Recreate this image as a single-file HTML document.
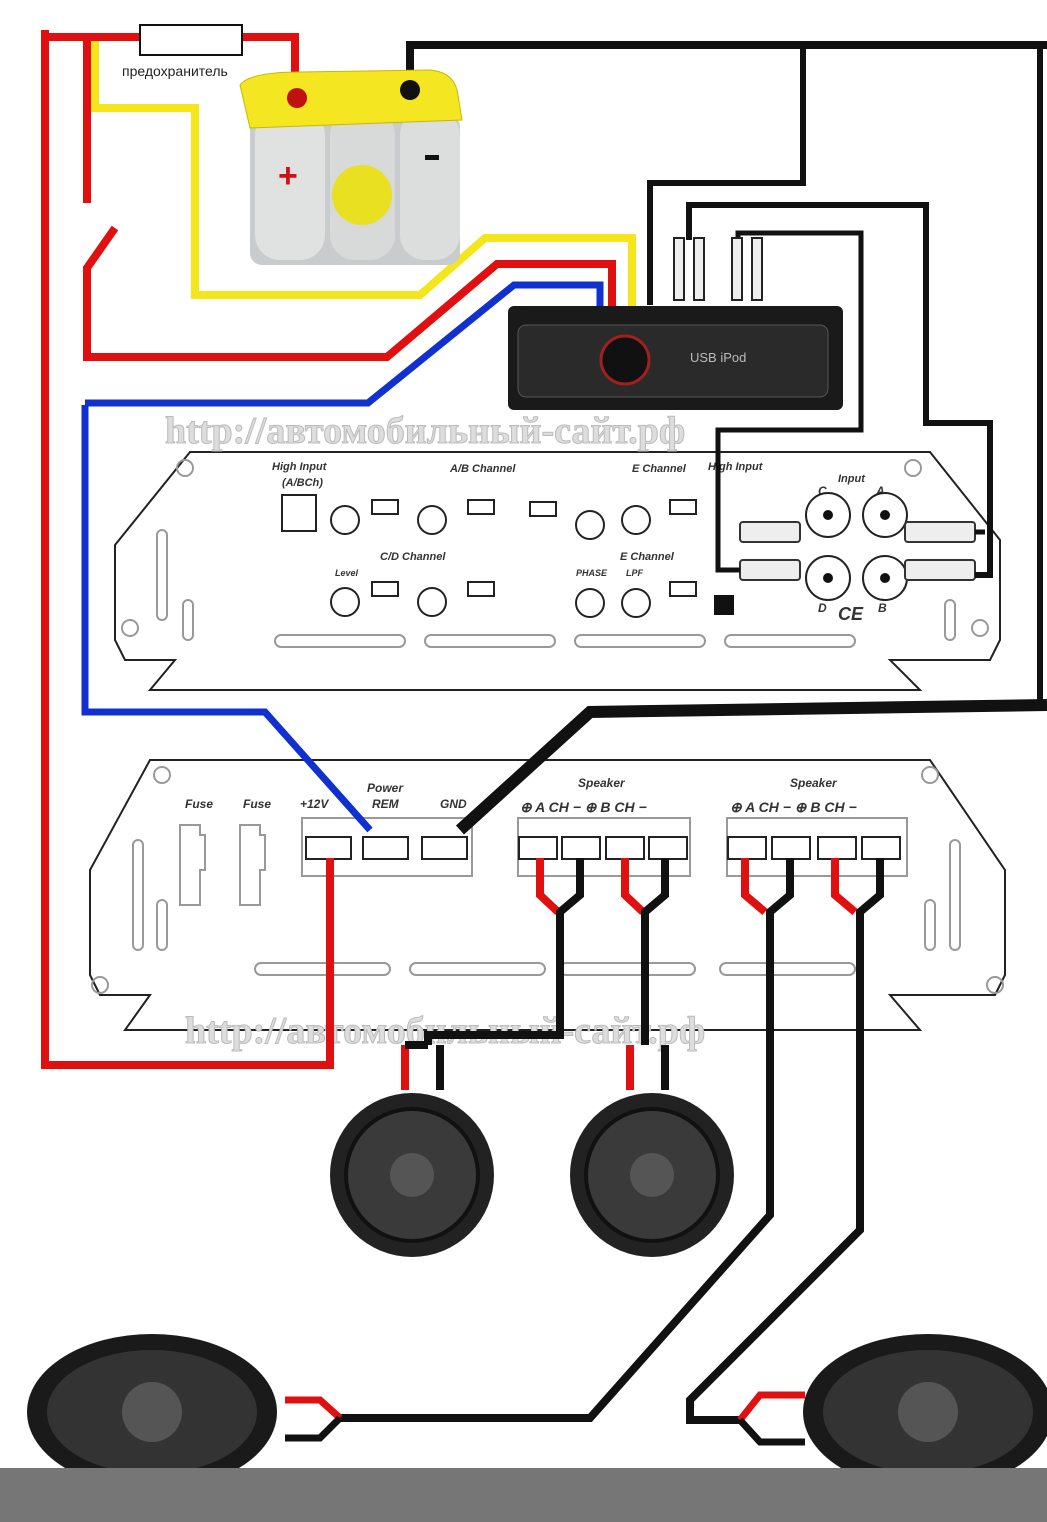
<!DOCTYPE html>
<html><head><meta charset="utf-8"><style>
html,body{margin:0;padding:0;background:#fff;}
svg{display:block;font-family:"Liberation Sans",sans-serif;}
</style></head><body>
<svg width="1047" height="1522" viewBox="0 0 1047 1522" xmlns="http://www.w3.org/2000/svg">
<rect width="1047" height="1522" fill="#fff"/>
<g fill="none" stroke="#222" stroke-width="2">
<path d="M190,452 L930,452 L1000,540 L1000,640 L990,660 L890,660 L920,690 L150,690 L175,660 L125,660 L115,640 L115,545 Z"/>
<path d="M150,760 L930,760 L1005,870 L1005,975 L995,995 L890,995 L920,1030 L125,1030 L150,995 L100,995 L90,975 L90,870 Z"/>
</g>
<g fill="none" stroke="#999" stroke-width="2">
<rect x="275" y="635" width="130" height="12" rx="6"/><rect x="425" y="635" width="130" height="12" rx="6"/><rect x="575" y="635" width="130" height="12" rx="6"/><rect x="725" y="635" width="130" height="12" rx="6"/>
<rect x="255" y="963" width="135" height="12" rx="6"/><rect x="410" y="963" width="135" height="12" rx="6"/><rect x="560" y="963" width="135" height="12" rx="6"/><rect x="720" y="963" width="135" height="12" rx="6"/>
<rect x="157" y="530" width="10" height="90" rx="5"/><rect x="183" y="600" width="10" height="40" rx="5"/><rect x="945" y="600" width="10" height="40" rx="5"/>
<rect x="133" y="840" width="10" height="110" rx="5"/><rect x="157" y="900" width="10" height="50" rx="5"/><rect x="925" y="900" width="10" height="50" rx="5"/><rect x="950" y="840" width="10" height="110" rx="5"/>
<circle cx="185" cy="468" r="8"/><circle cx="913" cy="468" r="8"/><circle cx="130" cy="628" r="8"/><circle cx="980" cy="628" r="8"/>
<circle cx="162" cy="775" r="8"/><circle cx="930" cy="775" r="8"/><circle cx="100" cy="985" r="8"/><circle cx="995" cy="985" r="8"/>
<rect x="302" y="818" width="170" height="58"/><rect x="518" y="818" width="172" height="58"/><rect x="727" y="818" width="180" height="58"/>
<path d="M180,825 h20 v10 h5 v35 h-5 v35 h-20 z M240,825 h20 v10 h5 v35 h-5 v35 h-20 z"/>
</g>
<g stroke="#222" stroke-width="2" fill="#fff">
<rect x="306" y="837" width="45" height="22"/><rect x="363" y="837" width="45" height="22"/><rect x="422" y="837" width="45" height="22"/>
<rect x="519" y="837" width="38" height="22"/><rect x="562" y="837" width="38" height="22"/><rect x="606" y="837" width="38" height="22"/><rect x="649" y="837" width="38" height="22"/>
<rect x="728" y="837" width="38" height="22"/><rect x="772" y="837" width="38" height="22"/><rect x="818" y="837" width="38" height="22"/><rect x="862" y="837" width="38" height="22"/>
</g>
<g font-size="12" font-weight="bold" font-style="italic" fill="#333">
<text x="367" y="792">Power</text><text x="300" y="808">+12V</text><text x="372" y="808">REM</text><text x="440" y="808">GND</text>
<text x="185" y="808">Fuse</text><text x="243" y="808">Fuse</text>
<text x="578" y="787">Speaker</text><text x="790" y="787">Speaker</text>
<text x="520" y="812" font-size="14">⊕ A CH −  ⊕ B CH −</text>
<text x="730" y="812" font-size="14">⊕ A CH −  ⊕ B CH −</text>
<text x="272" y="470" font-size="11">High Input</text><text x="282" y="486" font-size="11">(A/BCh)</text>
<text x="450" y="472" font-size="11">A/B Channel</text><text x="632" y="472" font-size="11">E Channel</text><text x="708" y="470" font-size="11">High Input</text>
<text x="380" y="560" font-size="11">C/D Channel</text><text x="620" y="560" font-size="11">E Channel</text>
<text x="838" y="482" font-size="11">Input</text><text x="818" y="495">C</text><text x="876" y="495">A</text><text x="818" y="612">D</text><text x="878" y="612">B</text><text x="838" y="620" font-size="18">CE</text>
<text x="335" y="524" font-size="9">Level</text><text x="335" y="576" font-size="9">Level</text><text x="622" y="524" font-size="9">Level</text><text x="576" y="576" font-size="9">PHASE</text><text x="626" y="576" font-size="9">LPF</text>
</g>
<g fill="#fff" stroke="#222" stroke-width="2">
<rect x="282" y="495" width="34" height="36"/>
<circle cx="345" cy="520" r="14"/><circle cx="432" cy="520" r="14"/><circle cx="590" cy="525" r="14"/><circle cx="636" cy="520" r="14"/>
<circle cx="345" cy="602" r="14"/><circle cx="432" cy="602" r="14"/><circle cx="590" cy="603" r="14"/><circle cx="636" cy="603" r="14"/>
<rect x="372" y="500" width="26" height="14"/><rect x="468" y="500" width="26" height="14"/><rect x="530" y="502" width="26" height="14"/><rect x="670" y="500" width="26" height="14"/>
<rect x="372" y="582" width="26" height="14"/><rect x="468" y="582" width="26" height="14"/><rect x="670" y="582" width="26" height="14"/>
<circle cx="828" cy="515" r="22"/><circle cx="885" cy="515" r="22"/><circle cx="828" cy="578" r="22"/><circle cx="885" cy="578" r="22"/>
</g>
<g fill="#111"><circle cx="828" cy="515" r="5"/><circle cx="885" cy="515" r="5"/><circle cx="828" cy="578" r="5"/><circle cx="885" cy="578" r="5"/><rect x="714" y="595" width="20" height="20"/></g>
<g fill="#eee" stroke="#333" stroke-width="2">
<rect x="740" y="522" width="60" height="20" rx="3"/><rect x="740" y="560" width="60" height="20" rx="3"/>
<rect x="905" y="522" width="70" height="20" rx="3"/><rect x="905" y="560" width="70" height="20" rx="3"/>
</g>
<g font-family="Liberation Serif,serif" font-size="38" font-weight="bold" fill="#ddd" stroke="#bbb" stroke-width="1">
<text x="165" y="443">http://автомобильный-сайт.рф</text>
<text x="185" y="1043">http://автомобильный-сайт.рф</text>
</g>
<g fill="none" stroke-linejoin="miter">
<path d="M95,37 L95,108 L195,108 L195,295 L420,295 L485,238 L632,238 L632,308" stroke="#f5e51b" stroke-width="8"/>
<path d="M87,37 L87,203" stroke="#e01010" stroke-width="8"/>
<path d="M115,228 L87,268 L87,357 L387,357 L497,264 L612,264 L612,308" stroke="#e01010" stroke-width="8"/>
<path d="M85,405 L85,712 L265,712 L370,830" stroke="#1030d0" stroke-width="7"/>
<path d="M85,403 L368,403 L514,285 L600,285 L600,308" stroke="#1030d0" stroke-width="7"/>
<path d="M45,30 L45,1065 L330,1065 L330,858" stroke="#e01010" stroke-width="8"/>
<path d="M45,37 L295,37 L295,95" stroke="#e01010" stroke-width="8"/>
<path d="M410,95 L410,45 L1047,45" stroke="#111" stroke-width="8"/>
<path d="M1047,705 L590,712 L460,830" stroke="#111" stroke-width="12"/>
<path d="M1040,45 L1040,705" stroke="#111" stroke-width="6"/>
<path d="M803,45 L803,183 L650,183 L650,305" stroke="#111" stroke-width="6"/>
<path d="M689,240 L689,205 L926,205 L926,423 L990,423 L990,575 L975,575" stroke="#111" stroke-width="6"/>
<path d="M738,240 L738,233 L861,233 L861,430 L718,430 L718,570 L740,570" stroke="#111" stroke-width="5"/>
<path d="M975,532 L985,532" stroke="#111" stroke-width="5"/>
<path d="M540,858 L540,895 L558,912 M625,858 L625,895 L643,912 M745,858 L745,895 L765,912 M835,858 L835,895 L855,912" stroke="#e01010" stroke-width="8"/>
<path d="M580,858 L580,895 L560,912 L560,1035 L428,1035 L428,1045 M665,858 L665,895 L645,912 L645,1045" stroke="#111" stroke-width="8"/>
<path d="M790,858 L790,895 L770,912 L770,1215 L590,1418 L340,1418" stroke="#111" stroke-width="8"/>
<path d="M880,858 L880,895 L860,912 L860,1230 L690,1400 L690,1420 L740,1420" stroke="#111" stroke-width="8"/>
<path d="M405,1045 L405,1090 M630,1045 L630,1090" stroke="#e01010" stroke-width="8"/>
<path d="M440,1045 L440,1090 M665,1045 L665,1090 M428,1045 L405,1045" stroke="#111" stroke-width="8"/>
<path d="M285,1400 L320,1400 L340,1418" stroke="#e01010" stroke-width="7"/>
<path d="M285,1438 L320,1438 L340,1418" stroke="#111" stroke-width="7"/>
<path d="M805,1395 L760,1395 L740,1420" stroke="#e01010" stroke-width="7"/>
<path d="M805,1442 L760,1442 L740,1420" stroke="#111" stroke-width="7"/>
</g>
<rect x="140" y="25" width="102" height="30" fill="#fff" stroke="#111" stroke-width="2"/>
<text x="122" y="76" font-size="14" fill="#222">предохранитель</text>
<!-- battery -->
<rect x="250" y="115" width="210" height="150" rx="12" fill="#c9cccc"/>
<rect x="255" y="110" width="70" height="150" rx="25" fill="#e0e2e2"/><rect x="330" y="110" width="65" height="150" rx="25" fill="#d8dada"/><rect x="400" y="110" width="60" height="150" rx="25" fill="#dcdede"/>
<circle cx="362" cy="195" r="30" fill="#e8e020"/>
<path d="M240,85 Q250,72 300,72 L430,70 Q455,72 458,95 L462,120 L250,128 Z" fill="#f4e620" stroke="#c8b800"/>
<circle cx="297" cy="98" r="10" fill="#c01010"/><circle cx="410" cy="90" r="10" fill="#111"/>
<text x="278" y="187" font-size="34" font-weight="bold" fill="#d01010">+</text>
<rect x="425" y="155" width="14" height="5" fill="#111"/>
<!-- head unit -->
<rect x="508" y="306" width="335" height="104" rx="6" fill="#1a1a1a"/>
<rect x="518" y="325" width="310" height="72" rx="8" fill="#2a2a2a" stroke="#555"/>
<circle cx="625" cy="360" r="24" fill="#111" stroke="#a02020" stroke-width="3"/>
<text x="690" y="362" font-size="13" fill="#bbb">USB iPod</text>
<g fill="#eee" stroke="#222" stroke-width="2"><rect x="674" y="238" width="10" height="62"/><rect x="694" y="238" width="10" height="62"/><rect x="732" y="238" width="10" height="62"/><rect x="752" y="238" width="10" height="62"/></g>
<g>
<circle cx="412" cy="1175" r="82" fill="#222"/><circle cx="412" cy="1175" r="66" fill="#3a3a3a" stroke="#111" stroke-width="4"/><circle cx="412" cy="1175" r="22" fill="#555"/>
<circle cx="652" cy="1175" r="82" fill="#222"/><circle cx="652" cy="1175" r="66" fill="#3a3a3a" stroke="#111" stroke-width="4"/><circle cx="652" cy="1175" r="22" fill="#555"/>
<ellipse cx="152" cy="1412" rx="125" ry="78" fill="#1a1a1a"/><ellipse cx="152" cy="1412" rx="105" ry="62" fill="#333"/><circle cx="152" cy="1412" r="30" fill="#555"/>
<ellipse cx="928" cy="1412" rx="125" ry="78" fill="#1a1a1a"/><ellipse cx="928" cy="1412" rx="105" ry="62" fill="#333"/><circle cx="928" cy="1412" r="30" fill="#555"/>
</g>
<rect x="0" y="1468" width="1047" height="54" fill="#767676"/>
</svg>
</body></html>
